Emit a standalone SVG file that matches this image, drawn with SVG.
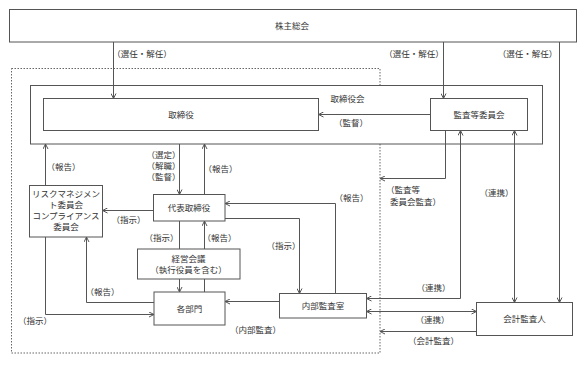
<svg xmlns="http://www.w3.org/2000/svg" width="587" height="367" viewBox="0 0 587 367">
<defs>
<style>
.b{fill:#fff;stroke:#555;stroke-width:1}
.c{fill:none;stroke:#555;stroke-width:1}
.t{font-family:"Noto Sans CJK JP","Noto Sans CJK SC",sans-serif;font-size:8.5px;fill:#333;text-anchor:middle}
.s{text-anchor:start}
</style>
<marker id="a" viewBox="0 0 6 6" refX="5.5" refY="3" markerWidth="6" markerHeight="6" markerUnits="userSpaceOnUse" orient="auto-start-reverse">
<path d="M0.5,0.5 L5.5,3 L0.5,5.5" fill="none" stroke="#555" stroke-width="1"/>
</marker>
</defs>
<rect width="587" height="367" fill="#fff"/>
<rect x="11.5" y="68.5" width="368.5" height="284.5" fill="none" stroke="#666" stroke-width="1" stroke-dasharray="1.5,1.5"/>
<g id="kabunushi"><rect class="b" x="9.5" y="9.5" width="567" height="32.5"/><text class="t" x="292" y="28.8">株主総会</text></g>
<g id="torishimariyakukai"><rect class="b" x="30.5" y="85.5" width="512" height="58.5"/><text class="t" x="347.5" y="102.3">取締役会</text></g>
<g id="torishimariyaku"><rect class="b" x="43.5" y="98.5" width="275" height="32"/><text class="t" x="181" y="117.5">取締役</text></g>
<g id="kansatou"><rect class="b" x="430.5" y="98.5" width="97" height="32"/><text class="t" x="479" y="117.5">監査等委員会</text></g>
<g id="risk"><rect class="b" x="29.5" y="185.5" width="73" height="51.5"/>
<text class="t" x="66" y="197">リスクマネジメン</text><text class="t" x="66" y="208">ト委員会</text><text class="t" x="66" y="219">コンプライアンス</text><text class="t" x="66" y="230">委員会</text></g>
<g id="daihyo"><rect class="b" x="153.5" y="194.5" width="71.5" height="26.5"/><text class="t" x="189" y="210.5">代表取締役</text></g>
<g id="keiei"><rect class="b" x="137.5" y="249" width="102.5" height="30"/><text class="t" x="188.5" y="261.5">経営会議</text><text class="t" x="188.5" y="272.5">（執行役員を含む）</text></g>
<g id="kakubumon"><rect class="b" x="154" y="292" width="71" height="33"/><text class="t" x="189.5" y="311.5">各部門</text></g>
<g id="naibu"><rect class="b" x="279.5" y="293.5" width="87" height="24.5"/><text class="t" x="323" y="308.8">内部監査室</text></g>
<g id="kaikei"><rect class="b" x="476.5" y="302.5" width="96" height="33"/><text class="t" x="524.5" y="322">会計監査人</text></g>
<g id="connectors">
<path class="c" d="M113.5,42 V98.5" marker-end="url(#a)"/>
<path class="c" d="M443.5,42 V98.5" marker-end="url(#a)"/>
<path class="c" d="M559.5,42 V302.5" marker-end="url(#a)"/>
<path class="c" d="M430.5,114.5 H318.5" marker-end="url(#a)"/>
<path class="c" d="M179.5,144 V194.5" marker-end="url(#a)"/>
<path class="c" d="M204.5,194.5 V144" marker-end="url(#a)"/>
<path class="c" d="M45.5,185.5 V144" marker-end="url(#a)"/>
<path class="c" d="M153.5,210.5 H102.5" marker-end="url(#a)"/>
<path class="c" d="M445.5,130.5 V178.5 H380" marker-end="url(#a)"/>
<path class="c" d="M460.5,130.5 V298.5 H366.5" marker-start="url(#a)" marker-end="url(#a)"/>
<path class="c" d="M514.5,130.5 V302.5" marker-start="url(#a)" marker-end="url(#a)"/>
<path class="c" d="M335.5,293.5 V203.5 H225" marker-end="url(#a)"/>
<path class="c" d="M225,218.5 H299.5 V293.5" marker-end="url(#a)"/>
<path class="c" d="M179.5,221 V249"/>
<path class="c" d="M204.5,249 V221" marker-end="url(#a)"/>
<path class="c" d="M179.5,279 V292" marker-end="url(#a)"/>
<path class="c" d="M204.5,292 V279"/>
<path class="c" d="M154,302.5 H86.5 V237" marker-end="url(#a)"/>
<path class="c" d="M45.5,237 V314.5 H154" marker-end="url(#a)"/>
<path class="c" d="M279.5,301.5 H225" marker-end="url(#a)"/>
<path class="c" d="M366.5,311.5 H476.5" marker-start="url(#a)" marker-end="url(#a)"/>
<path class="c" d="M476.5,331.5 H380" marker-end="url(#a)"/>
</g>
<g id="labels">
<text class="t" x="142" y="57">（選任・解任）</text>
<text class="t" x="414" y="57">（選任・解任）</text>
<text class="t" x="527.5" y="57">（選任・解任）</text>
<text class="t" x="351" y="125.7">（監督）</text>
<text class="t" x="163.5" y="158">（選定）</text>
<text class="t" x="163.5" y="168.7">（解職）</text>
<text class="t" x="163.5" y="180.3">（監督）</text>
<text class="t" x="220.5" y="172">（報告）</text>
<text class="t" x="63.5" y="169.7">（報告）</text>
<text class="t" x="128.5" y="223">（指示）</text>
<text class="t s" x="386" y="193">（監査等</text>
<text class="t s" x="390" y="204.7">委員会監査）</text>
<text class="t" x="496.5" y="196">（連携）</text>
<text class="t" x="351.5" y="200.5">（報告）</text>
<text class="t" x="283.5" y="248.5">（指示）</text>
<text class="t" x="161.5" y="241">（指示）</text>
<text class="t" x="219.5" y="241">（報告）</text>
<text class="t" x="433.5" y="291">（連携）</text>
<text class="t" x="102.5" y="294.7">（報告）</text>
<text class="t" x="432.5" y="323">（連携）</text>
<text class="t" x="35" y="323.7">（指示）</text>
<text class="t" x="255.5" y="333">（内部監査）</text>
<text class="t" x="433.5" y="344">（会計監査）</text>
</g>
</svg>
